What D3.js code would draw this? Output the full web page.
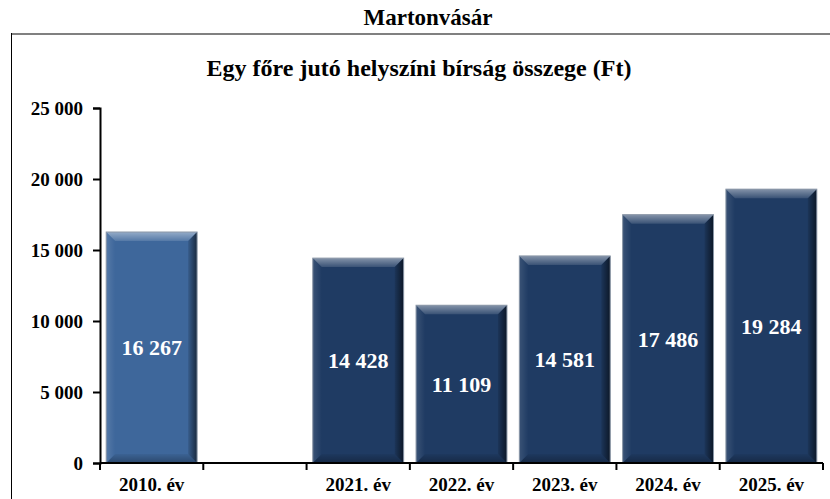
<!DOCTYPE html>
<html>
<head>
<meta charset="utf-8">
<script src="https://cdn.jsdelivr.net/npm/d3@7"></script>
<style>
  body { margin: 0; background: #fff; }
  text { font-family: "Liberation Serif", "Times New Roman", serif; font-weight: bold; }
</style>
</head>
<body>
<svg width="830" height="499"></svg>
<script>
const categories = ["2010. év", "", "2021. év", "2022. év", "2023. év", "2024. év", "2025. év"];
const values     = [16267, null, 14428, 11109, 14581, 17486, 19284];
const yTicks     = [0, 5000, 10000, 15000, 20000, 25000];

const svg = d3.select("svg");
const margin = {left: 100, right: 7, top: 108, bottom: 36};
const width = 830, height = 499;

const x = d3.scaleBand()
  .domain(d3.range(categories.length))
  .range([margin.left, width - margin.right])
  .paddingInner(0.12)
  .paddingOuter(0.06);

const y = d3.scaleLinear().domain([0, 25000]).range([height - margin.bottom, margin.top]);

const fmt = v => d3.format(",")(v).replace(/,/g, " ");

// frame
svg.append("line").attr("x1", 11).attr("x2", 830).attr("y1", 34).attr("y2", 34)
  .attr("stroke", "#808080").attr("stroke-width", 2);
svg.append("line").attr("x1", 11.5).attr("x2", 11.5).attr("y1", 33).attr("y2", 499)
  .attr("stroke", "#000").attr("stroke-width", 1);

svg.append("text").attr("x", 428).attr("y", 25).attr("text-anchor", "middle")
  .attr("font-size", 23).text("Martonvásár");
svg.append("text").attr("x", 419).attr("y", 76).attr("text-anchor", "middle")
  .attr("font-size", 24).text("Egy főre jutó helyszíni bírság összege (Ft)");

// gradients
const defs = svg.append("defs");
function grad(id, x1, y1, x2, y2, stops) {
  const g = defs.append("linearGradient").attr("id", id)
    .attr("x1", x1).attr("y1", y1).attr("x2", x2).attr("y2", y2);
  stops.forEach(s => g.append("stop").attr("offset", s[0]).attr("stop-color", s[1]).attr("stop-opacity", s[2]));
}
grad("top", 0, 0, 0, 1, [[0, "#ffffff", 0.45], [1, "#ffffff", 0.12]]);
grad("right", 0, 0, 1, 0, [[0, "#000000", 0.1], [1, "#000000", 0.6]]);
grad("left", 1, 0, 0, 0, [[0, "#ffffff", 0.0], [1, "#ffffff", 0.12]]);
grad("bottom", 0, 0, 0, 1, [[0, "#000000", 0.05], [1, "#000000", 0.3]]);

const colors = d => d === 0 ? "#3e679b" : "#1f3b63";

const data = values.map((v, i) => ({i, v})).filter(d => d.v !== null);

const bars = svg.append("g").selectAll("g.bar").data(data).enter().append("g").attr("class", "bar");
const bev = 9;
bars.each(function(d) {
  const g = d3.select(this);
  const x0 = x(d.i), x1 = x0 + x.bandwidth();
  const y0 = y(d.v), y1 = y(0);
  g.append("rect").attr("x", x0).attr("y", y0).attr("width", x1 - x0).attr("height", y1 - y0)
    .attr("fill", colors(d.i));
  g.append("polygon").attr("fill", "url(#top)")
    .attr("points", [[x0, y0], [x1, y0], [x1 - bev, y0 + bev], [x0 + bev, y0 + bev]].join(" "));
  g.append("polygon").attr("fill", "url(#right)")
    .attr("points", [[x1, y0], [x1, y1], [x1 - bev, y1 - bev], [x1 - bev, y0 + bev]].join(" "));
  g.append("polygon").attr("fill", "url(#left)")
    .attr("points", [[x0, y0], [x0 + bev, y0 + bev], [x0 + bev, y1 - bev], [x0, y1]].join(" "));
  g.append("polygon").attr("fill", "url(#bottom)")
    .attr("points", [[x0, y1], [x0 + bev, y1 - bev], [x1 - bev, y1 - bev], [x1, y1]].join(" "));
  g.append("rect").attr("x", x0).attr("y", y0).attr("width", x1 - x0).attr("height", y1 - y0)
    .attr("fill", "none").attr("stroke", "#8a96a6").attr("stroke-width", 1);
  g.append("text").attr("x", (x0 + x1) / 2).attr("y", (y0 + y1) / 2)
    .attr("dy", "0.35em").attr("text-anchor", "middle").attr("fill", "#fff")
    .attr("font-size", 22).text(fmt(d.v));
});

// y axis
const yAxis = svg.append("g").attr("transform", `translate(${margin.left},0)`)
  .call(d3.axisLeft(y).tickValues(yTicks).tickFormat(fmt).tickSize(7).tickPadding(10));
yAxis.select(".domain").attr("stroke-width", 2);
yAxis.selectAll(".tick line").attr("stroke-width", 2);
yAxis.selectAll("text").attr("font-size", 19);

// x axis
const xAxisG = svg.append("g").attr("transform", `translate(0,${y(0)})`);
xAxisG.append("line").attr("x1", margin.left).attr("x2", width - margin.right)
  .attr("stroke", "#000").attr("stroke-width", 2);
const step = x.step();
const xEdges = d3.range(categories.length + 1).map(i => x(0) - x.step() * x.paddingInner() / 2 + i * step);
xAxisG.selectAll("line.tk").data(xEdges).enter().append("line").attr("class", "tk")
  .attr("x1", d => d).attr("x2", d => d).attr("y1", 0).attr("y2", 7)
  .attr("stroke", "#000").attr("stroke-width", 2);
xAxisG.selectAll("text.lbl").data(categories).enter().append("text").attr("class", "lbl")
  .attr("x", (d, i) => x(i) + x.bandwidth() / 2).attr("y", 28)
  .attr("text-anchor", "middle").attr("font-size", 19).text(d => d);
</script>
</body>
</html>
